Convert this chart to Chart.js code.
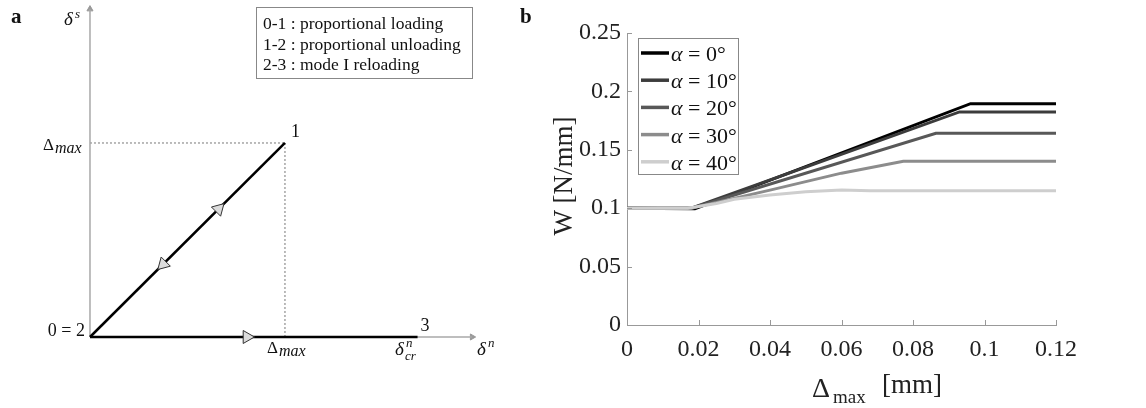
<!DOCTYPE html>
<html>
<head>
<meta charset="utf-8">
<script src="https://cdn.jsdelivr.net/npm/chart.js@4.4.1/dist/chart.umd.min.js"></script>
<style>
  html, body { margin: 0; padding: 0; background: #fff; }
  #wrap { position: relative; width: 1146px; height: 408px; overflow: hidden; }
  #boxA { position: absolute; left: 0; top: 0; width: 540px; height: 408px; }
  #boxB { position: absolute; left: 540px; top: 0; width: 606px; height: 408px; }
</style>
</head>
<body>
<div id="wrap">
  <div id="boxA"><canvas id="chartA"></canvas></div>
  <div id="boxB"><canvas id="chartB"></canvas></div>
</div>
<script>
const SERIF = '"Liberation Serif", "Times New Roman", serif';

// --- panel a : loading path, in units of Δmax ---
const axisXPts = [[0, 0], [1.96, 0]];
const axisYPts = [[0, 0], [0, 1.69]];
const loadPath = [[0, 0], [1, 1]];
const reloadPath = [[0, 0], [1.68, 0]];
const guideH = [[0, 1], [1, 1]];
const guideV = [[1, 1], [1, 0]];
const arrowPts = [[0.66, 0.66], [0.375, 0.375], [0.805, 0]];
const arrowRot = [45, 225, 90];
const axisHeadPts = [[1.96, 0], [0, 1.69]];
const axisHeadRot = [90, 0];
const pathLegend = ["0-1 : proportional loading", "1-2 : proportional unloading", "2-3 : mode I reloading"];

// --- panel b : dissipated energy vs Δmax ---
const alphaLabels = ["0°", "10°", "20°", "30°", "40°"];
const lineColors = ["#000000", "#3c3c3c", "#585858", "#8c8c8c", "#cecece"];
const dA0 = [0, 0.019, 0.0961, 0.12];
const wA0 = [0.1, 0.0995, 0.1895, 0.1895];
const dA10 = [0, 0.018, 0.093, 0.12];
const wA10 = [0.1, 0.1, 0.1824, 0.1824];
const dA20 = [0, 0.018, 0.0864, 0.12];
const wA20 = [0.1, 0.1, 0.1641, 0.1641];
const dA30 = [0, 0.018, 0.04, 0.06, 0.0773, 0.12];
const wA30 = [0.1, 0.1, 0.1155, 0.1300, 0.1401, 0.1401];
const dA40 = [0, 0.017, 0.025, 0.03, 0.04, 0.05, 0.06, 0.068, 0.12];
const wA40 = [0.1, 0.1, 0.104, 0.1076, 0.1113, 0.1140, 0.1155, 0.1149, 0.1149];
const xTickLabels = ["0", "0.02", "0.04", "0.06", "0.08", "0.1", "0.12"];
const yTickLabels = ["0", "0.05", "0.1", "0.15", "0.2", "0.25"];

const toXY = pts => pts.map(([x, y]) => ({ x, y }));
const zipXY = (xs, ys) => xs.map((x, i) => ({ x, y: ys[i] }));

// ✅ Panel a labels
const panelADecor = {
  id: "panelADecor",
  afterDraw(chart) {
    const { ctx, scales: { x, y } } = chart;
    const X = v => x.getPixelForValue(v);
    const Y = v => y.getPixelForValue(v);
    ctx.save();
    ctx.fillStyle = "#111";
    ctx.textBaseline = "alphabetic";

    ctx.font = "bold 21px " + SERIF;
    ctx.fillText("a", 11, 23);
    ctx.fillText("b", 520, 23);

    // δ^s on vertical axis
    ctx.font = "italic 19px " + SERIF;
    ctx.fillText("δ", 64, 25);
    ctx.font = "italic 13px " + SERIF;
    ctx.fillText("s", 75, 18);

    // Δmax on vertical axis
    ctx.font = "17px " + SERIF;
    ctx.fillText("Δ", 43, Y(1) + 7);
    ctx.font = "italic 16px " + SERIF;
    ctx.fillText("max", 55, Y(1) + 10);

    // point numbers
    ctx.font = "18px " + SERIF;
    ctx.fillText("1", X(1) + 6, Y(1) - 6);
    ctx.textAlign = "right";
    ctx.fillText("0 = 2", X(0) - 5, Y(0) - 1);
    ctx.textAlign = "left";
    ctx.fillText("3", X(1.68) + 3, Y(0) - 6);

    // Δmax on horizontal axis
    ctx.font = "17px " + SERIF;
    ctx.fillText("Δ", X(1) - 18, Y(0) + 16);
    ctx.font = "italic 16px " + SERIF;
    ctx.fillText("max", X(1) - 6, Y(0) + 19);

    // δ^n_cr
    ctx.font = "italic 19px " + SERIF;
    ctx.fillText("δ", 395, Y(0) + 18);
    ctx.font = "italic 13px " + SERIF;
    ctx.fillText("n", 406, Y(0) + 10);
    ctx.fillText("cr", 405, Y(0) + 23);

    // δ^n axis name
    ctx.font = "italic 19px " + SERIF;
    ctx.fillText("δ", 477, Y(0) + 18);
    ctx.font = "italic 13px " + SERIF;
    ctx.fillText("n", 488, Y(0) + 10);

    // path legend box
    ctx.fillStyle = "#fff";
    ctx.fillRect(256.5, 7.5, 216, 71);
    ctx.strokeStyle = "#888";
    ctx.lineWidth = 1;
    ctx.strokeRect(256.5, 7.5, 216, 71);
    ctx.fillStyle = "#111";
    ctx.font = "17.5px " + SERIF;
    pathLegend.forEach((t, i) => ctx.fillText(t, 263, 29 + i * 20.7));
    ctx.restore();
  }
};

new Chart(document.getElementById("chartA"), {
  type: "scatter",
  data: {
    datasets: [
      { data: toXY(guideH), showLine: true, borderColor: "#777", borderWidth: 1, borderDash: [2, 2], pointRadius: 0, order: 4 },
      { data: toXY(guideV), showLine: true, borderColor: "#777", borderWidth: 1, borderDash: [2, 2], pointRadius: 0, order: 4 },
      { data: toXY(axisXPts), showLine: true, borderColor: "#a8a8a8", borderWidth: 1.5, pointRadius: 0, order: 3 },
      { data: toXY(axisYPts), showLine: true, borderColor: "#a8a8a8", borderWidth: 1.5, pointRadius: 0, order: 3 },
      { data: toXY(axisHeadPts), showLine: false, pointStyle: "triangle", pointRotation: axisHeadRot,
        pointRadius: 3.5, backgroundColor: "#999", borderColor: "#999", borderWidth: 1, order: 3 },
      { data: toXY(loadPath), showLine: true, borderColor: "#000", borderWidth: 2.5, pointRadius: 0, order: 2 },
      { data: toXY(reloadPath), showLine: true, borderColor: "#000", borderWidth: 2.5, pointRadius: 0, order: 2 },
      { data: toXY(arrowPts), showLine: false, pointStyle: "triangle", pointRotation: arrowRot,
        pointRadius: 7.5, backgroundColor: "#dcdcdc", borderColor: "#333", borderWidth: 1, order: 1 }
    ]
  },
  options: {
    responsive: true,
    maintainAspectRatio: false,
    animation: false,
    devicePixelRatio: 1,
    events: [],
    layout: { padding: 0, autoPadding: false },
    scales: {
      x: { type: "linear", display: false, min: -0.4615, max: 2.308 },
      y: { type: "linear", display: false, min: -0.366, max: 1.737 }
    },
    plugins: { legend: { display: false }, tooltip: { enabled: false } }
  },
  plugins: [panelADecor]
});

// ✅ Panel b: inner ticks, titles, legend
const panelBDecor = {
  id: "panelBDecor",
  afterDraw(chart) {
    const { ctx, chartArea: a, scales: { x, y } } = chart;
    ctx.save();
    ctx.strokeStyle = "#999";
    ctx.lineWidth = 1;
    x.ticks.forEach(t => {
      const px = Math.round(x.getPixelForValue(t.value)) + 0.5;
      ctx.beginPath(); ctx.moveTo(px, a.bottom); ctx.lineTo(px, a.bottom - 5); ctx.stroke();
    });
    y.ticks.forEach(t => {
      const py = Math.round(y.getPixelForValue(t.value)) + 0.5;
      ctx.beginPath(); ctx.moveTo(a.left, py); ctx.lineTo(a.left + 5, py); ctx.stroke();
    });

    // axis titles
    ctx.fillStyle = "#222";
    ctx.textBaseline = "alphabetic";
    ctx.save();
    ctx.translate(32, (a.top + a.bottom) / 2 - 3);
    ctx.rotate(-Math.PI / 2);
    ctx.textAlign = "center";
    ctx.font = "27px " + SERIF;
    ctx.fillText("W [N/mm]", 0, 0);
    ctx.restore();

    ctx.font = "28px " + SERIF;
    ctx.fillText("Δ", 272, 397);
    ctx.font = "19px " + SERIF;
    ctx.fillText("max", 293, 403);
    ctx.font = "27px " + SERIF;
    ctx.fillText("[mm]", 342, 393);

    // legend
    const lx = a.left + 11, ly = a.top + 5;
    ctx.fillStyle = "#fff";
    ctx.fillRect(lx + 0.5, ly + 0.5, 100, 136);
    ctx.strokeStyle = "#888";
    ctx.strokeRect(lx + 0.5, ly + 0.5, 100, 136);
    chart.data.datasets.forEach((ds, i) => {
      const cy = ly + 15 + i * 27.2;
      ctx.strokeStyle = ds.borderColor;
      ctx.lineWidth = 3.5;
      ctx.beginPath(); ctx.moveTo(lx + 3, cy); ctx.lineTo(lx + 31, cy); ctx.stroke();
      ctx.fillStyle = "#111";
      ctx.font = "italic 22px " + SERIF;
      ctx.fillText("α", lx + 33, cy + 8);
      const aw = ctx.measureText("α").width;
      ctx.font = "22px " + SERIF;
      ctx.fillText(" = " + alphaLabels[i], lx + 33 + aw, cy + 8);
    });
    ctx.restore();
  }
};

const seriesX = [dA0, dA10, dA20, dA30, dA40];
const seriesW = [wA0, wA10, wA20, wA30, wA40];

new Chart(document.getElementById("chartB"), {
  type: "line",
  data: {
    datasets: alphaLabels.map((lab, i) => ({
      label: "α = " + lab,
      data: zipXY(seriesX[i], seriesW[i]),
      borderColor: lineColors[i],
      borderWidth: 3,
      pointRadius: 0,
      tension: 0,
      order: alphaLabels.length - i
    }))
  },
  options: {
    responsive: true,
    maintainAspectRatio: false,
    animation: false,
    devicePixelRatio: 1,
    events: [],
    layout: { padding: { left: 0, top: 33, right: 90, bottom: 0 }, autoPadding: false },
    scales: {
      x: {
        type: "linear", min: 0, max: 0.12,
        afterFit: s => { s.height = 83; },
        grid: { drawOnChartArea: false, drawTicks: false },
        border: { display: true, color: "#999", width: 1 },
        ticks: {
          stepSize: 0.02, padding: 10, color: "#222", maxRotation: 0,
          font: { family: SERIF, size: 24 },
          callback: (v, i) => xTickLabels[i]
        }
      },
      y: {
        type: "linear", min: 0, max: 0.25,
        afterFit: s => { s.width = 87; },
        grid: { drawOnChartArea: false, drawTicks: false },
        border: { display: true, color: "#999", width: 1 },
        ticks: {
          stepSize: 0.05, padding: 6, color: "#222",
          font: { family: SERIF, size: 24 },
          callback: (v, i) => yTickLabels[i]
        }
      }
    },
    plugins: { legend: { display: false }, tooltip: { enabled: false } }
  },
  plugins: [panelBDecor]
});
</script>
</body>
</html>
